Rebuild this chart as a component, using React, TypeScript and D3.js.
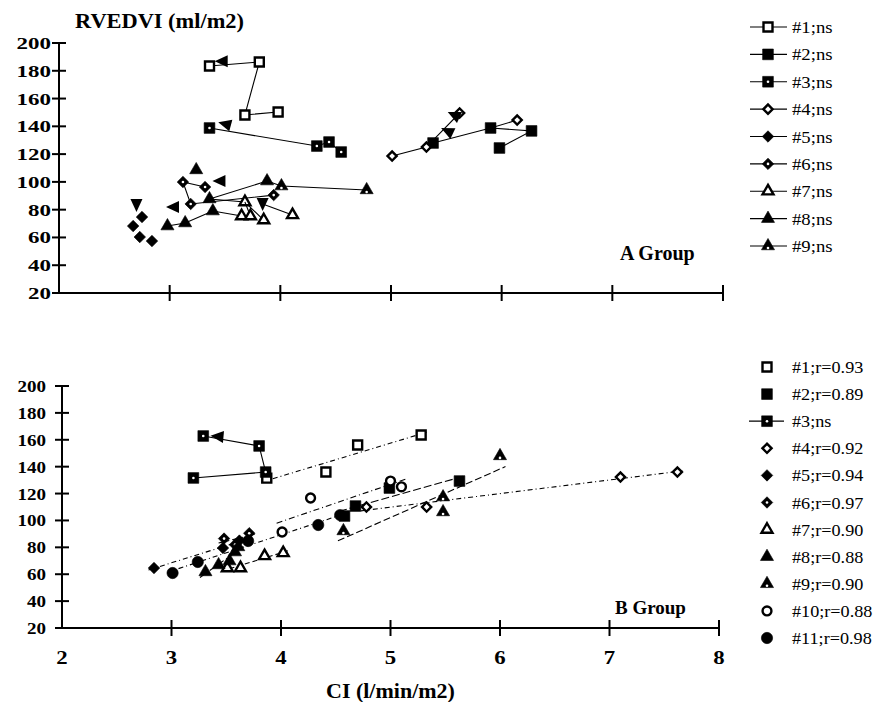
import React from 'react';
import * as d3 from 'd3';

// tick values
const yTicks = [20, 40, 60, 80, 100, 120, 140, 160, 180, 200];
const xTicks = [2, 3, 4, 5, 6, 7, 8];

// marker kinds per patient
const kindsA = ['sqrOpen', 'sqrFill', 'sqrDot', 'diaOpen', 'diaFill', 'diaDot', 'triOpen', 'triFill', 'triDot'];
const kindsB = ['sqrOpen', 'sqrFill', 'sqrDot', 'diaOpen', 'diaFill', 'diaDot', 'triOpen', 'triFill', 'triDot', 'cirOpen', 'cirFill'];
const labelsA = ['#1;ns', '#2;ns', '#3;ns', '#4;ns', '#5;ns', '#6;ns', '#7;ns', '#8;ns', '#9;ns'];
const labelsB = ['#1;r=0.93', '#2;r=0.89', '#3;ns', '#4;r=0.92', '#5;r=0.94', '#6;r=0.97', '#7;r=0.90', '#8;r=0.88', '#9;r=0.90', '#10;r=0.88', '#11;r=0.98'];

// A group: each patient is a list of polylines, point = [CI, RVEDVI, marker?]
const a1 = [[[3.98, 150.3], [3.68, 148.2], [3.81, 186.3], [3.36, 183.4]]];
const a2 = [[[5.38, 128.0], [5.90, 138.8], [6.27, 136.7], [5.98, 124.4]]];
const a3 = [[[3.36, 138.8], [4.33, 125.8], [4.44, 128.7], [4.55, 121.5]]];
const a4 = [[[5.01, 118.6], [5.32, 125.1], [5.62, 149.6]], [[5.90, 138.8, 0], [6.14, 144.5]]];
const a5 = [[[2.67, 68.2]], [[2.75, 74.7]], [[2.73, 60.3]], [[2.84, 57.4]]];
const a6 = [[[3.32, 96.3], [3.12, 99.9], [3.19, 84.1], [3.94, 90.5]]];
const a7 = [
  [[3.39, 79.0, 0], [3.65, 75.4]],
  [[3.36, 87.7, 0], [3.68, 85.5], [3.85, 72.5]],
  [[3.68, 85.5, 0], [3.73, 75.4]],
  [[4.11, 76.2], [3.84, 84.1, 0]],
];
const a8 = [[[2.98, 68.2], [3.14, 70.4], [3.39, 79.0]], [[3.24, 108.6]], [[3.36, 87.7], [3.88, 100.6]]];
const a9 = [[[3.88, 100.6, 0], [4.01, 97.0], [4.78, 94.2]]];
const pathsA = [a1, a2, a3, a4, a5, a6, a7, a8, a9];

// arrow heads: [CI, RVEDVI, direction in degrees]
const arrowsA = [
  [3.47, 186.9, 180], [3.50, 141.7, 195], [3.45, 100.6, 180], [3.03, 81.9, 180],
  [2.70, 83.4, 90], [3.84, 84.1, 90], [5.51, 136.6, 205], [5.57, 148.2, 205],
];

// B group
const b1 = [[3.87, 131.5], [4.41, 136.0], [4.70, 156.1], [5.28, 163.5]];
const b2 = [[4.58, 103.3], [4.68, 110.7], [4.99, 124.1], [5.63, 129.3]];
const b3 = [[3.20, 131.6], [3.86, 136.0], [3.80, 155.4], [3.29, 162.8]];
const b4 = [[4.78, 110.0], [5.33, 110.0], [7.10, 132.3], [7.62, 136.0]];
const b5 = [[2.84, 64.6], [3.47, 79.5], [3.62, 85.0]];
const b6 = [[3.48, 86.5], [3.58, 82.0], [3.71, 90.5]];
const b7 = [[3.51, 64.6], [3.63, 64.6], [3.85, 73.6], [4.02, 75.8]];
const b8 = [[3.31, 61.7], [3.43, 66.9], [3.53, 69.8], [3.58, 76.5], [3.61, 80.3]];
const b9 = [[4.57, 92.2], [5.48, 106.3], [5.48, 117.4], [6.00, 148.0]];
const b10 = [[4.01, 91.4], [4.27, 116.7], [5.00, 129.3], [5.10, 125.0]];
const b11 = [[3.01, 60.9], [3.24, 69.1], [3.70, 84.7], [4.34, 96.6], [4.54, 104.0]];
const pointsB = [b1, b2, b3, b4, b5, b6, b7, b8, b9, b10, b11];
const arrowsB = [[3.42, 162.5, 185]];
const dashesB = ['5,3,1,3', '8,3', '', '5,3,1,3', '5,3,1,3', '4,3', '5,3', '5,3,1,3', '7,3', '6,3,1,3', '5,3,1,3'];

const font = 'Liberation Serif, DejaVu Serif, serif';

function T({x, y, sx = 1, anchor = 'start', size = 17, bold = false, children}: any) {
  return (
    <text
      transform={`translate(${x},${y}) scale(${sx},1)`}
      textAnchor={anchor}
      style={{fontFamily: font, fontSize: size, fontWeight: bold ? 700 : 400}}
      fill="#000">
      {children}
    </text>
  );
}

function Marker({kind, x, y}: any) {
  const shape = kind.slice(0, 3);
  const style = kind.slice(3);
  const open = style === 'Open';
  let d: any;
  let rot = 0;
  if (shape === 'sqr') d = d3.symbol(d3.symbolSquare, open ? 81 : 115)();
  if (shape === 'dia') {
    d = d3.symbol(d3.symbolSquare, open ? 42 : 66)();
    rot = 45;
  }
  if (shape === 'tri') d = d3.symbol(d3.symbolTriangle, open ? 52 : 74)();
  if (shape === 'cir') d = d3.symbol(d3.symbolCircle, open ? 62 : 100)();
  return (
    <g transform={`translate(${x},${y})`}>
      <path
        d={d}
        transform={`rotate(${rot})`}
        fill={open ? '#fff' : '#000'}
        stroke="#000"
        strokeWidth={open ? 2.4 : 0.6}
      />
      {style === 'Dot' && <circle cx={0} cy={shape === 'tri' ? 2 : 0} r={1.3} fill="#fff" />}
    </g>
  );
}

function Arrow({x, y, a}: any) {
  return <path d="M7,0 L-6,-6 L-6,6 Z" transform={`translate(${x},${y}) rotate(${a})`} fill="#000" />;
}

function fit(pts: number[][]) {
  const xs = pts.map((p) => p[0]);
  const mx = d3.mean(xs) as number;
  const my = d3.mean(pts, (p) => p[1]) as number;
  const sxy = d3.sum(pts, (p) => (p[0] - mx) * (p[1] - my));
  const sxx = d3.sum(xs, (v) => (v - mx) ** 2);
  const b = sxy / sxx;
  const a = my - b * mx;
  const [x0, x1] = d3.extent(xs) as [number, number];
  return [
    [x0 - 0.05, a + b * (x0 - 0.05)],
    [x1 + 0.05, a + b * (x1 + 0.05)],
  ];
}

function Axes({x, y, labelX, labelSx}: any) {
  const [x0, x1] = x.range();
  const [y0, y1] = y.range();
  return (
    <g>
      <line x1={x0} x2={x0} y1={y1 - 1} y2={y0} stroke="#000" strokeWidth={2} />
      <line x1={x0} x2={x1} y1={y0} y2={y0} stroke="#000" strokeWidth={2} />
      {yTicks.map((t) => (
        <g key={t}>
          <line x1={x0 - 7} x2={x0 + 7} y1={y(t)} y2={y(t)} stroke="#000" strokeWidth={2} />
          <T x={labelX} y={y(t) + 6} sx={labelSx} anchor="end" bold size={17}>
            {t}
          </T>
        </g>
      ))}
      {xTicks.slice(1).map((t) => (
        <line key={t} x1={x(t)} x2={x(t)} y1={y0 - 8} y2={y0 + 8} stroke="#000" strokeWidth={2} />
      ))}
    </g>
  );
}

export default function App() {
  const xA = d3.scaleLinear().domain([2, 8]).range([59, 723]);
  const yA = d3.scaleLinear().domain([20, 200]).range([293, 43]);
  const xB = d3.scaleLinear().domain([2, 8]).range([62, 719]);
  const yB = d3.scaleLinear().domain([20, 200]).range([628, 386]);

  const lineA = d3.line<number[]>().x((p) => xA(p[0])).y((p) => yA(p[1]));
  const lineB = d3.line<number[]>().x((p) => xB(p[0])).y((p) => yB(p[1]));

  const legA = d3.scaleLinear().domain([0, 8]).range([27, 246]);
  const legB = d3.scaleLinear().domain([0, 10]).range([367, 638]);

  return (
    <svg width={889} height={702} style={{position: 'absolute', left: 0, top: 0, background: '#fff'}}>
      <rect width={889} height={702} fill="#fff" />
      {/* A group */}
      <T x={75} y={28} sx={1.12} bold size={20}>
        RVEDVI (ml/m2)
      </T>
      <Axes x={xA} y={yA} labelX={51} labelSx={1.35} />
      {pathsA.map((paths, i) =>
        paths.map((pl, j) => (
          <g key={`${i}-${j}`}>
            {pl.length > 1 && <path d={lineA(pl) as string} fill="none" stroke="#000" strokeWidth={1.1} />}
            {pl
              .filter((p) => p[2] !== 0)
              .map((p, k) => (
                <Marker key={k} kind={kindsA[i]} x={xA(p[0])} y={yA(p[1])} />
              ))}
          </g>
        ))
      )}
      {arrowsA.map((a, i) => (
        <Arrow key={i} x={xA(a[0])} y={yA(a[1])} a={a[2]} />
      ))}
      <T x={620} y={260} bold size={20}>
        A Group
      </T>
      {labelsA.map((l, i) => (
        <g key={l}>
          <line x1={750} x2={787} y1={legA(i)} y2={legA(i)} stroke="#000" strokeWidth={1.2} />
          <Marker kind={kindsA[i]} x={768} y={legA(i)} />
          <T x={792} y={legA(i) + 6} sx={1.1} size={17}>
            {l}
          </T>
        </g>
      ))}

      {/* B group */}
      <Axes x={xB} y={yB} labelX={46} labelSx={1.12} />
      {xTicks.map((t) => (
        <T key={t} x={xB(t)} y={664} sx={1.2} anchor="middle" bold size={19}>
          {t}
        </T>
      ))}
      {pointsB.map((pts, i) =>
        dashesB[i] ? (
          <path
            key={`r${i}`}
            d={lineB(fit(pts)) as string}
            fill="none"
            stroke="#000"
            strokeWidth={1.1}
            strokeDasharray={dashesB[i]}
          />
        ) : (
          <path key={`r${i}`} d={lineB(pts) as string} fill="none" stroke="#000" strokeWidth={1.1} />
        )
      )}
      {pointsB.map((pts, i) =>
        pts.map((p, k) => <Marker key={`${i}-${k}`} kind={kindsB[i]} x={xB(p[0])} y={yB(p[1])} />)
      )}
      {arrowsB.map((a, i) => (
        <Arrow key={i} x={xB(a[0])} y={yB(a[1])} a={a[2]} />
      ))}
      <T x={615} y={614} bold size={19}>
        B Group
      </T>
      {labelsB.map((l, i) => (
        <g key={l}>
          {!dashesB[i] && <line x1={749} x2={784} y1={legB(i)} y2={legB(i)} stroke="#000" strokeWidth={1.2} />}
          <Marker kind={kindsB[i]} x={767} y={legB(i)} />
          <T x={792} y={legB(i) + 6} sx={1.07} size={17}>
            {l}
          </T>
        </g>
      ))}
      <T x={326} y={698} sx={1.1} bold size={20}>
        CI (l/min/m2)
      </T>
    </svg>
  );
}
